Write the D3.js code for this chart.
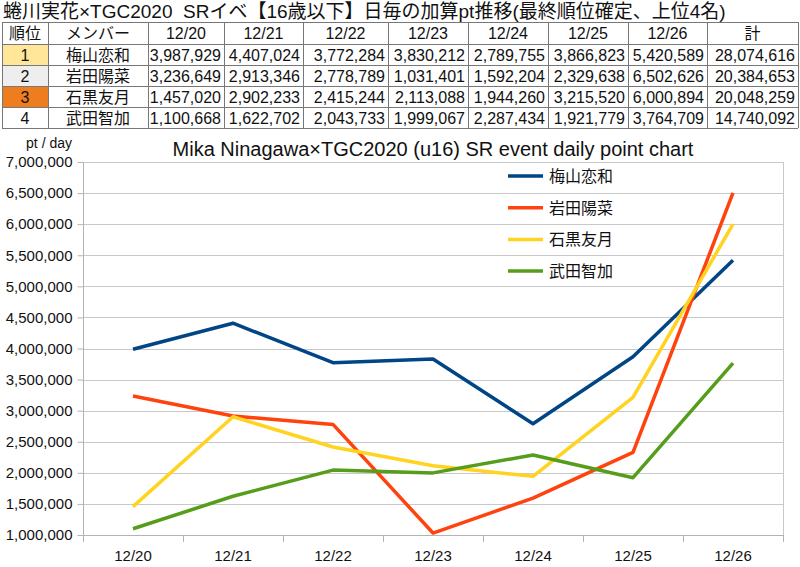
<!DOCTYPE html>
<html>
<head>
<meta charset="utf-8">
<script src="https://cdn.jsdelivr.net/npm/d3@7"></script>
<style>
  body { margin: 0; background: #fff; }
  svg { display: block; font-family: "Liberation Sans", "Noto Sans CJK JP", sans-serif; }
</style>
</head>
<body>
<svg id="chart" width="800" height="567"></svg>
<script>
const dates = ["12/20", "12/21", "12/22", "12/23", "12/24", "12/25", "12/26"];
const members = ["梅山恋和", "岩田陽菜", "石黒友月", "武田智加"];
const ranks = [1, 2, 3, 4];
const umeyama = [3987929, 4407024, 3772284, 3830212, 2789755, 3866823, 5420589];
const iwata = [3236649, 2913346, 2778789, 1031401, 1592204, 2329638, 6502626];
const ishiguro = [1457020, 2902233, 2415244, 2113088, 1944260, 3215520, 6000894];
const takeda = [1100668, 1622702, 2043733, 1999067, 2287434, 1921779, 3764709];
const totals = [28074616, 20384653, 20048259, 14740092];
const yTicks = [1000000, 1500000, 2000000, 2500000, 3000000, 3500000, 4000000, 4500000, 5000000, 5500000, 6000000, 6500000, 7000000];

const tableTitle = "蜷川実花×TGC2020\u00a0\u00a0SRイベ【16歳以下】日毎の加算pt推移(最終順位確定、上位4名)";
const chartTitle = "Mika Ninagawa×TGC2020 (u16) SR event daily point chart";

const series = [umeyama, iwata, ishiguro, takeda];
const colors = ["#004586", "#ff420e", "#ffd320", "#579d1c"];
const rankFill = ["#ffe699", "#eeeeee", "#ed7d1f", "#ffffff"];
const fmt = d3.format(",");

const svg = d3.select("#chart");
svg.append("rect").attr("width", 800).attr("height", 567).attr("fill", "#fff");

// ---------- table ----------
svg.append("text")
  .attr("x", 3).attr("y", 18)
  .style("font-size", "19px")
  .attr("fill", "#111")
  .text(tableTitle);

const colEdges = [2, 48, 148, 224, 303, 388, 468, 548, 628, 707, 798];
const rowEdges = [22, 44, 65, 86, 107, 128];
const header = ["順位", "メンバー", ...dates, "計"];
const rows = members.map((m, i) => [String(ranks[i]), m, ...series[i].map(fmt), fmt(totals[i])]);

const table = svg.append("g").classed("table", true);

// rank cell fills
table.selectAll("rect.rank")
  .data(ranks)
  .enter().append("rect")
  .attr("x", colEdges[0])
  .attr("y", (d, i) => rowEdges[i + 1])
  .attr("width", colEdges[1] - colEdges[0])
  .attr("height", (d, i) => rowEdges[i + 2] - rowEdges[i + 1])
  .attr("fill", (d, i) => rankFill[i]);

// grid lines
table.selectAll("line.h")
  .data(rowEdges)
  .enter().append("line")
  .attr("x1", colEdges[0]).attr("x2", colEdges[colEdges.length - 1])
  .attr("y1", d => d + 0.5).attr("y2", d => d + 0.5)
  .attr("stroke", "#777").attr("stroke-width", 1);

table.selectAll("line.v")
  .data(colEdges)
  .enter().append("line")
  .attr("y1", rowEdges[0]).attr("y2", rowEdges[rowEdges.length - 1])
  .attr("x1", d => d + 0.5).attr("x2", d => d + 0.5)
  .attr("stroke", "#777").attr("stroke-width", 1);

const cellText = (row, r) => {
  const y = (rowEdges[r] + rowEdges[r + 1]) / 2 + 6;
  table.selectAll(null)
    .data(row)
    .enter().append("text")
    .attr("y", y)
    .attr("x", (d, c) => {
      if (r > 0 && c >= 2) return colEdges[c + 1] - 3;
      return (colEdges[c] + colEdges[c + 1]) / 2;
    })
    .attr("text-anchor", (d, c) => (r > 0 && c >= 2) ? "end" : "middle")
    .style("font-size", "16px")
    .attr("fill", "#111")
    .text(d => d);
};
cellText(header, 0);
rows.forEach((row, i) => cellText(row, i + 1));

// ---------- chart ----------
const plot = {left: 83, right: 783, top: 162, bottom: 535};

const x = d3.scaleBand().domain(dates).range([plot.left, plot.right]);
const y = d3.scaleLinear().domain([1000000, 7000000]).range([plot.bottom, plot.top]);

// gridlines
svg.append("g")
  .selectAll("line")
  .data(yTicks)
  .enter().append("line")
  .attr("x1", plot.left).attr("x2", plot.right)
  .attr("y1", d => Math.round(y(d)) + 0.5).attr("y2", d => Math.round(y(d)) + 0.5)
  .attr("stroke", "#c8c8c8");

// right border
svg.append("line")
  .attr("x1", plot.right + 0.5).attr("x2", plot.right + 0.5)
  .attr("y1", plot.top).attr("y2", plot.bottom)
  .attr("stroke", "#c8c8c8");

// y axis
const yAxis = svg.append("g")
  .attr("transform", `translate(${plot.left + 0.5},0)`)
  .call(d3.axisLeft(y).tickValues(yTicks).tickFormat(fmt).tickSize(6).tickPadding(5));
yAxis.select(".domain").attr("stroke", "#b3b3b3").attr("d", `M0,${plot.top}V${plot.bottom + 7}`);
yAxis.selectAll(".tick line").attr("stroke", "#b3b3b3");
yAxis.selectAll(".tick text")
  .style("font-size", "15px")
  .style("font-family", "Liberation Sans")
  .attr("fill", "#111");

// x axis
const xAxis = svg.append("g")
  .attr("transform", `translate(0,${plot.bottom + 0.5})`)
  .call(d3.axisBottom(x).tickSize(0).tickPadding(15));
xAxis.select(".domain").attr("stroke", "#b3b3b3").attr("d", `M${plot.left},0H${plot.right}`);
xAxis.selectAll(".tick text")
  .style("font-size", "15px")
  .style("font-family", "Liberation Sans")
  .attr("fill", "#111");
// category boundary ticks
svg.append("g")
  .selectAll("line")
  .data([...dates.map(d => x(d)), plot.right])
  .enter().append("line")
  .attr("x1", d => Math.round(d) + 0.5).attr("x2", d => Math.round(d) + 0.5)
  .attr("y1", plot.bottom).attr("y2", plot.bottom + 7)
  .attr("stroke", "#b3b3b3");

// lines
const line = d3.line()
  .x((d, i) => x(dates[i]) + x.bandwidth() / 2)
  .y(d => y(d));

svg.append("g")
  .selectAll("path")
  .data(series)
  .enter().append("path")
  .attr("d", d => line(d))
  .attr("fill", "none")
  .attr("stroke", (d, i) => colors[i])
  .attr("stroke-width", 3.5)
  .attr("stroke-linejoin", "round");

// titles
svg.append("text")
  .attr("x", (plot.left + plot.right) / 2).attr("y", 156)
  .attr("text-anchor", "middle")
  .style("font-size", "20px")
  .attr("fill", "#111")
  .text(chartTitle);

svg.append("text")
  .attr("x", 72).attr("y", 148)
  .attr("text-anchor", "end")
  .style("font-size", "14px")
  .attr("fill", "#111")
  .text("pt / day");

// legend
const legend = svg.append("g")
  .selectAll("g")
  .data(members)
  .enter().append("g")
  .attr("transform", (d, i) => `translate(508,${176 + i * 31.7})`);
legend.append("line")
  .attr("x1", 0).attr("x2", 35)
  .attr("stroke", (d, i) => colors[i])
  .attr("stroke-width", 3.5);
legend.append("text")
  .attr("x", 41).attr("y", 6)
  .style("font-size", "16px")
  .attr("fill", "#111")
  .text(d => d);
</script>
</body>
</html>
